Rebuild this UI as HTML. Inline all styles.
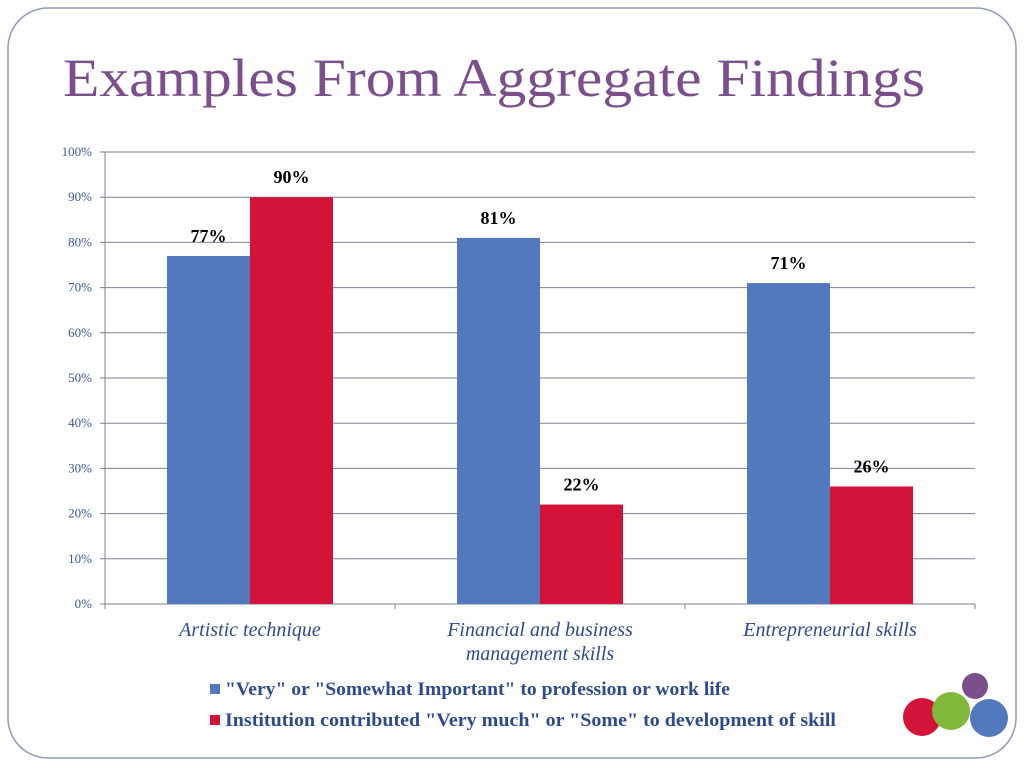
<!DOCTYPE html>
<html><head><meta charset="utf-8"><style>
body{margin:0;width:1024px;height:768px;background:#fff;overflow:hidden}
svg{display:block}
</style></head><body>
<svg width="1024" height="768" xmlns="http://www.w3.org/2000/svg" font-family="Liberation Serif, serif">
<rect x="8" y="8" width="1008" height="750" rx="40" fill="none" stroke="#8f9ab5" stroke-width="1.5"/>
<text x="63" y="96" font-size="54" fill="#7b4f8c" textLength="862" lengthAdjust="spacingAndGlyphs">Examples From Aggregate Findings</text>
<g id="chart"></g>
<g>
<rect x="210" y="684" width="10" height="10" fill="#5278bd"/>
<text x="225" y="695" font-size="19" font-weight="bold" fill="#2d4b8c" textLength="505" lengthAdjust="spacingAndGlyphs">"Very" or "Somewhat Important" to profession or work life</text>
<rect x="210" y="715" width="10" height="10" fill="#d41338"/>
<text x="225" y="726" font-size="19" font-weight="bold" fill="#2d4b8c" textLength="611" lengthAdjust="spacingAndGlyphs">Institution contributed "Very much" or "Some" to development of skill</text>
</g>
<g>
<circle cx="922" cy="717" r="19" fill="#d41338"/>
<circle cx="951" cy="711" r="19" fill="#7fb83a"/>
<circle cx="975" cy="686" r="13" fill="#7b4f8c"/>
<circle cx="989" cy="718" r="19" fill="#5278bd"/>
</g>
</svg>
<script>
const categories=[["Artistic technique"],["Financial and business","management skills"],["Entrepreneurial skills"]];
const seriesImportant=[77,81,71];
const seriesContributed=[90,22,26];
const yTicks=[0,10,20,30,40,50,60,70,80,90,100];
const NS="http://www.w3.org/2000/svg";
const g=document.getElementById('chart');
const x0=105,x1=975,yTop=152,yBot=604;
const y=v=>yBot-(v/100)*(yBot-yTop);
const band=(x1-x0)/categories.length;
const bw=83;
function mk(t,a){const e=document.createElementNS(NS,t);for(const k in a)e.setAttribute(k,a[k]);g.appendChild(e);return e;}
yTicks.forEach(v=>{
 const l=mk('line',{x1:x0-5,x2:x1,y1:y(v),y2:y(v),stroke:'#7b8196','stroke-width':1});
 
 
 const t=mk('text',{x:92,y:y(v)+4,'text-anchor':'end','font-size':13,fill:'#3c5a99'});
 t.textContent=v+'%';
 
 
});
const ax=mk('line',{x1:x0,x2:x0,y1:yTop,y2:yBot,stroke:'#7b8196'});


for(let i=0;i<=categories.length;i++){
 const t=mk('line',{x1:x0+i*band,x2:x0+i*band,y1:yBot,y2:yBot+5,stroke:'#7b8196'});
 
 
}
categories.forEach((c,i)=>{
 const cx=x0+band*(i+0.5);
 [[seriesImportant,'#5278bd',-1,'important'],[seriesContributed,'#d41338',0,'contributed']].forEach(([s,col,off,nm])=>{
  const bx=cx+off*bw;
  const r=mk('rect',{x:bx,y:y(s[i]),width:bw,height:yBot-y(s[i]),fill:col});
  
  
  const t=mk('text',{x:bx+bw/2,y:y(s[i])-14,'text-anchor':'middle','font-size':18,'font-weight':'bold',fill:'#000'});
  t.textContent=s[i]+'%';
  
  
 });
 c.forEach((line,j)=>{
  const t=mk('text',{x:cx,y:636+j*24,'text-anchor':'middle','font-size':20,'font-style':'italic',fill:'#2d4b8c'});
  t.textContent=line;
  
  
 });
});
</script>
</body></html>
